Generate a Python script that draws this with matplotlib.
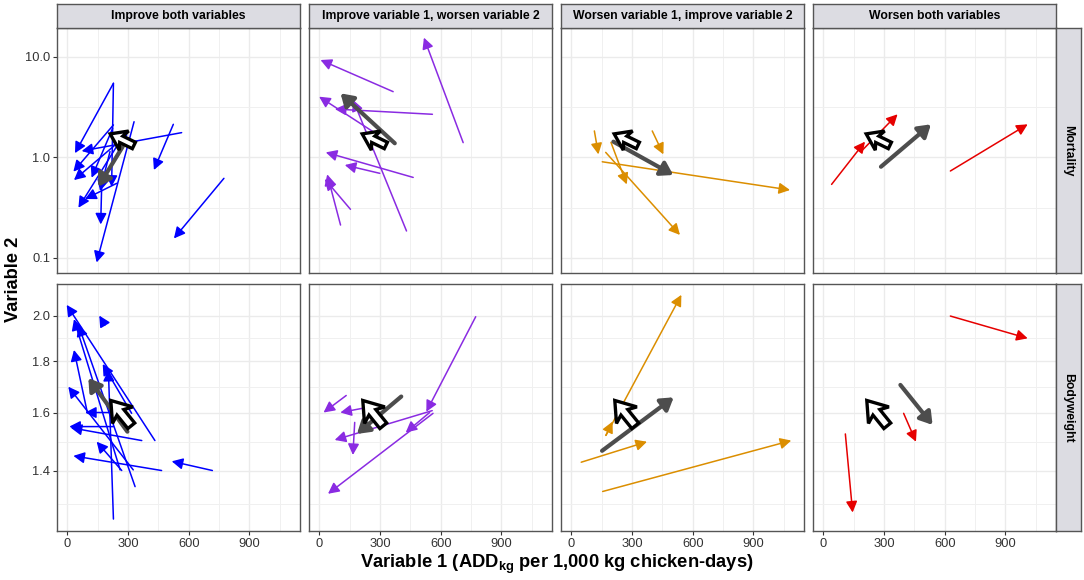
import matplotlib.pyplot as plt
from matplotlib.patches import Polygon
from matplotlib import transforms
from matplotlib.ticker import FixedLocator, NullFormatter

plt.rcParams['font.family'] = ['Liberation Sans', 'DejaVu Sans']
plt.rcParams['mathtext.fontset'] = 'custom'
plt.rcParams['mathtext.rm'] = 'Liberation Sans'
plt.rcParams['mathtext.bf'] = 'Liberation Sans:bold'

columns = ['Improve both variables', 'Improve variable 1, worsen variable 2',
           'Worsen variable 1, improve variable 2', 'Worsen both variables']
rows = ['Mortality', 'Bodyweight']
col_colors = ['#0000FF', '#8A2BE2', '#DB8E00', '#E60000']

# arrows: (x start, y start, x end, y end)
mort_both = [(228, 5.45, 38, 1.10), (228, 2.10, 30, 0.72), (565, 1.76, 71, 1.155),
             (524, 2.13, 428, 0.748), (774, 0.618, 527, 0.156), (330, 2.26, 145, 0.090),
             (170, 0.53, 165, 0.215), (269, 1.545, 55, 0.315), (244, 0.551, 88, 0.385),
             (224, 1.94, 120, 0.627), (228, 5.45, 219, 0.51), (294, 1.667, 33, 0.594),
             (211, 1.14, 162, 0.462)]
mort_v1 = [(365, 4.50, 6, 9.29), (711, 1.40, 517, 15.5), (559, 2.68, 77, 3.02),
           (291, 1.667, -1, 4.01), (431, 0.185, 167, 3.72), (464, 0.631, 32, 1.12),
           (299, 0.693, 126, 0.838), (154, 0.304, 27, 0.608), (105, 0.212, 39, 0.677)]
mort_v2 = [(114, 1.83, 134, 1.07), (400, 1.83, 455, 1.07), (196, 1.409, 274, 0.538),
           (170, 1.12, 537, 0.169), (153, 0.903, 1081, 0.473)]
mort_worse = [(41, 0.538, 206, 1.431), (186, 1.14, 367, 2.68), (628, 0.731, 1010, 2.13)]

bw_both = [(433, 1.50, -3, 2.05), (186, 1.957, 158, 2.0), (261, 1.402, 33, 1.984),
           (335, 1.349, 55, 1.957), (228, 1.252, 203, 1.765), (99, 1.60, 33, 1.848),
           (228, 1.60, 88, 1.60), (326, 1.402, 5, 1.698), (228, 1.549, 10, 1.549),
           (368, 1.50, 17, 1.545), (466, 1.40, 30, 1.448), (717, 1.40, 516, 1.43),
           (269, 1.40, 145, 1.496), (318, 1.597, 175, 1.789)]
bw_v1 = [(773, 1.995, 529, 1.603), (562, 1.597, 43, 1.327), (558, 1.607, 76, 1.502),
         (133, 1.664, 21, 1.60), (216, 1.616, 104, 1.60), (175, 1.564, 166, 1.451),
         (545, 1.60, 427, 1.528)]
bw_v2 = [(171, 1.518, 544, 2.098), (49, 1.427, 374, 1.496), (155, 1.334, 1087, 1.50),
         (171, 1.518, 204, 1.567)]
bw_worse = [(628, 1.998, 1010, 1.898), (109, 1.523, 145, 1.271), (397, 1.597, 458, 1.496)]

# mean arrows (grey)
mean_mort = [(274, 1.28, 153, 0.51), (373, 1.38, 105, 4.33),
             (208, 1.431, 504, 0.667), (285, 0.806, 532, 2.13)]
mean_bw = [(297, 1.531, 104, 1.732), (405, 1.66, 186, 1.523),
           (152, 1.465, 506, 1.657), (381, 1.705, 540, 1.555)]

# direction icon per row: tip position, angle, size
icon_x = [212, 215]
icon_y = [1.71, 1.645]
icon_angle = [154, 129]
icon_scale = [0.85, 1.05]

panels = [[mort_both, mort_v1, mort_v2, mort_worse],
          [bw_both, bw_v1, bw_v2, bw_worse]]
means = [mean_mort, mean_bw]

x_ticks = [0, 300, 600, 900]
x_minor = [150, 450, 750, 1050]
y_ticks = [[0.1, 1.0, 10.0], [1.4, 1.6, 1.8, 2.0]]
y_labels = [['0.1', '1.0', '10.0'], ['1.4', '1.6', '1.8', '2.0']]
y_minor = [[10 ** -0.5, 10 ** 0.5], [(1.2 * 1.4) ** 0.5, (1.4 * 1.6) ** 0.5,
                                      (1.6 * 1.8) ** 0.5, (1.8 * 2.0) ** 0.5]]
y_lims = [(0.0702, 19.56), (1.218, 2.151)]
x_lim = (-49.4, 1150)

W, H = 1084, 580
fig = plt.figure(figsize=(W / 100, H / 100), dpi=100)


def px_axes(left, top, width, height):
    return fig.add_axes([left / W, 1 - (top + height) / H, width / W, height / H])


col_left = [57.3, 309.3, 561.3, 813.3]
pw = 242.7
row_top = [27.5, 284.0]
row_h = [245.8, 247.0]
strip_fill = '#DCDCE2'
edge = '#555555'

icon_shape = [(0, 0), (-18, 12.5), (-14.5, 4.2), (-31, 4.2), (-31, -4.2),
              (-14.5, -4.2), (-18, -12.5)]

for r in range(2):
    for c in range(4):
        ax = px_axes(col_left[c], row_top[r], pw, row_h[r])
        ax.set_yscale('log')
        ax.set_xlim(*x_lim)
        ax.set_ylim(*y_lims[r])
        ax.xaxis.set_major_locator(FixedLocator(x_ticks))
        ax.xaxis.set_minor_locator(FixedLocator(x_minor))
        ax.yaxis.set_major_locator(FixedLocator(y_ticks[r]))
        ax.yaxis.set_minor_locator(FixedLocator(y_minor[r]))
        ax.xaxis.set_minor_formatter(NullFormatter())
        ax.yaxis.set_minor_formatter(NullFormatter())
        ax.grid(True, which='major', color='#EBEBEB', lw=1.0)
        ax.grid(True, which='minor', color='#F0F0F0', lw=0.7)
        ax.set_axisbelow(True)
        ax.tick_params(which='minor', length=0)
        ax.tick_params(which='major', length=3, width=0.8, color='#333333',
                       labelsize=9.3, labelcolor='#333333', pad=2)
        if r == 1:
            ax.set_xticklabels([str(v) for v in x_ticks])
        else:
            ax.tick_params(axis='x', which='major', length=0, labelbottom=False)
        if c == 0:
            ax.set_yticklabels(y_labels[r])
        else:
            ax.tick_params(axis='y', which='major', length=0, labelleft=False)
        for s in ax.spines.values():
            s.set_color(edge)
            s.set_linewidth(1.0)

        for x0, y0, x1, y1 in panels[r][c]:
            ax.annotate('', xy=(x1, y1), xytext=(x0, y0),
                        arrowprops=dict(arrowstyle='-|>,head_length=0.55,head_width=0.28',
                                        color=col_colors[c], lw=1.1, mutation_scale=12,
                                        shrinkA=0, shrinkB=0))
        x0, y0, x1, y1 = means[r][c]
        ax.annotate('', xy=(x1, y1), xytext=(x0, y0),
                    arrowprops=dict(arrowstyle='-|>,head_length=0.6,head_width=0.38',
                                    color='#4D4D4D', lw=3.0, mutation_scale=12,
                                    shrinkA=0, shrinkB=0))

        tr = (transforms.Affine2D().scale(icon_scale[r]).rotate_deg(icon_angle[r])
              + transforms.ScaledTranslation(icon_x[r], icon_y[r], ax.transData))
        ax.add_patch(Polygon(icon_shape, closed=True, facecolor='white', edgecolor='black',
                             lw=2.4, joinstyle='miter', transform=tr, zorder=5))

        if r == 0:
            sax = px_axes(col_left[c], 4.0, pw, 23.5)
            sax.set_facecolor(strip_fill)
            sax.set_xticks([])
            sax.set_yticks([])
            for s in sax.spines.values():
                s.set_color(edge)
                s.set_linewidth(1.0)
            sax.text(0.5, 0.5, columns[c], ha='center', va='center', fontsize=8.8,
                     fontweight='bold', transform=sax.transAxes)

    rax = px_axes(1056.0, row_top[r], 25.0, row_h[r])
    rax.set_facecolor(strip_fill)
    rax.set_xticks([])
    rax.set_yticks([])
    for s in rax.spines.values():
        s.set_color(edge)
        s.set_linewidth(1.0)
    rax.text(0.5, 0.5, rows[r], ha='center', va='center', fontsize=8.8, rotation=-90,
             fontweight='bold', transform=rax.transAxes)

fig.text(556.5 / W, 1 - 564 / H,
         r'Variable 1 (ADD$_{\mathbf{kg}}$ per 1,000 kg chicken-days)',
         ha='center', va='center', fontsize=13.2, fontweight='bold')
fig.text(13 / W, 1 - 279 / H, 'Variable 2', ha='center', va='center', rotation=90,
         fontsize=13.2, fontweight='bold')

fig.savefig('out.png', dpi=100)
